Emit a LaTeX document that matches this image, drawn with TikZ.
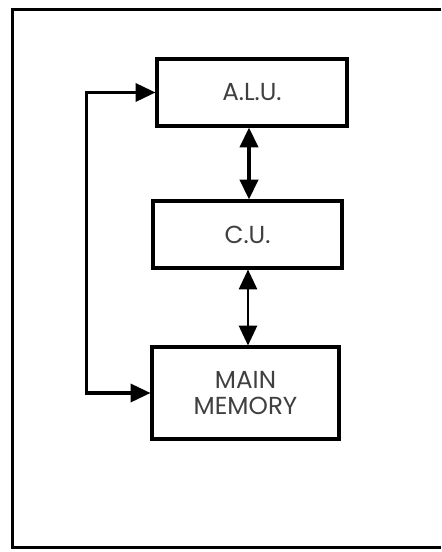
\documentclass[tikz,border=0pt]{standalone}
\usepackage{fontspec}
\setmainfont{Poppins}
\usepackage{xcolor}
\usepackage{tikz}
\usetikzlibrary{arrows.meta}

\begin{document}
\begin{tikzpicture}[
    x=0.03cm, y=-0.03cm, line width=2.6pt, >={Triangle[length=17pt, width=15.5pt]},
    unit/.style={rectangle, draw, line width=2.6pt, inner sep=0pt, text=black!75,
        font=\fontsize{21}{25}\selectfont, align=center}
]
    \path[use as bounding box] (0,0) rectangle (441,552);
    \fill[white] (0,0) rectangle (441,552);
    % frame, its right side lies outside the picture
    \draw (441,9.5) -- (12.5,9.5) -- (12.5,547.5) -- (441,547.5);

    \node[unit, minimum width=190*0.03cm, minimum height=67*0.03cm] (alu) at (252,92.5) {A.L.U.};
    \node[unit, minimum width=189*0.03cm, minimum height=67*0.03cm] (cu) at (247.5,234.5) {C.U.};
    \node[unit, minimum width=187*0.03cm, minimum height=92*0.03cm] (mem) at (245.5,393) {MAIN\\[-2pt]MEMORY};

    \coordinate (upper) at (249,0);
    \coordinate (lower) at (248,0);
    \draw[<->, line width=3pt] (alu.south -| upper) -- (cu.north -| upper);
    \draw[<->, line width=2pt] (cu.south -| lower) -- (mem.north -| lower);
    \draw[<->] (alu.west) -- ++(-69,0) |- (mem.west);
\end{tikzpicture}
\end{document}
